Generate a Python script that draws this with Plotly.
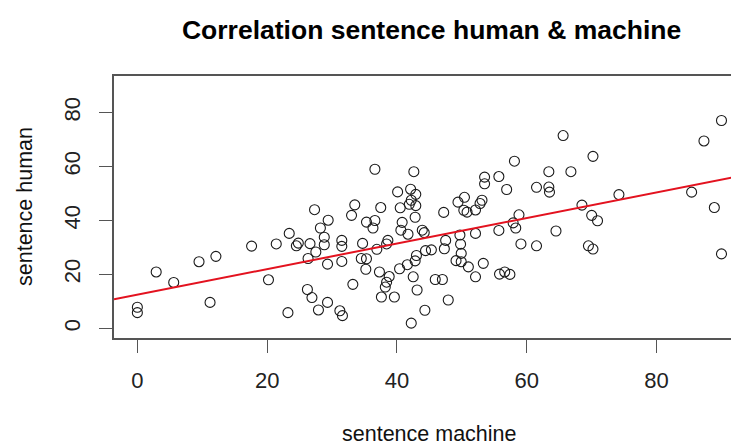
import numpy as np
import plotly.graph_objects as go

# sentence-level scores
sentence_machine = [
    0.0, 0.0, 2.9, 5.6, 9.5, 12.1, 11.2, 17.6, 20.2, 21.4,
    23.4, 23.2, 24.5, 24.8, 26.6, 27.3, 26.3, 27.5, 26.2, 26.9,
    27.9, 28.2, 29.4, 28.8, 28.8, 29.3, 29.3, 31.5, 31.5, 31.5,
    31.2, 31.6, 33.2, 33.5, 33.0, 34.7, 34.5, 35.3, 35.2, 35.3,
    36.6, 36.6, 36.3, 36.9, 37.3, 37.5, 38.6, 38.4, 38.8, 38.4,
    38.2, 37.6, 39.6, 40.1, 40.5, 40.8, 40.6, 41.7, 40.4, 41.6,
    42.2, 42.1, 42.6, 42.9, 42.2, 41.9, 42.9, 42.8, 42.8, 43.0,
    42.5, 43.1, 43.9, 44.2, 44.4, 45.3, 44.3, 45.9, 47.0, 47.2,
    47.5, 47.3, 47.9, 49.4, 50.4, 50.3, 50.8, 49.7, 49.8, 49.9,
    49.1, 49.9, 51.0, 52.1, 53.1, 52.8, 52.1, 52.1, 53.3, 53.5,
    53.5, 55.7, 56.9, 55.7, 55.8, 56.6, 57.4, 58.1, 58.8, 57.9,
    58.3, 59.1, 61.5, 61.5, 63.4, 63.4, 63.5, 64.5, 65.6, 66.8,
    68.5, 70.0, 70.9, 69.5, 70.2, 70.2, 74.2, 85.4, 87.3, 88.9,
    90.0, 90.0,
]
sentence_human = [
    7.8, 5.8, 20.9, 17.0, 24.7, 26.7, 9.6, 30.5, 18.0, 31.3,
    35.2, 5.8, 30.6, 31.6, 31.4, 44.0, 25.9, 28.3, 14.4, 11.4,
    6.8, 37.2, 40.1, 33.8, 31.0, 23.8, 9.6, 32.6, 30.4, 24.8,
    6.5, 4.7, 16.3, 45.8, 41.9, 31.5, 25.9, 25.8, 21.9, 39.4,
    59.0, 40.0, 37.2, 29.3, 20.9, 44.8, 32.6, 31.3, 19.2, 17.1,
    15.3, 11.6, 11.6, 50.6, 44.7, 39.3, 36.4, 34.9, 22.1, 23.6,
    1.9, 51.6, 58.1, 49.7, 47.5, 46.0, 45.5, 41.2, 25.0, 27.0,
    19.1, 14.2, 36.4, 35.5, 28.8, 29.1, 6.7, 18.1, 18.1, 43.0,
    32.6, 29.5, 10.5, 46.8, 48.6, 43.8, 43.1, 34.6, 31.2, 27.8,
    25.1, 24.7, 22.8, 43.9, 47.5, 46.3, 35.2, 19.1, 24.1, 56.1,
    53.6, 56.3, 51.5, 36.3, 20.1, 20.9, 20.0, 62.0, 42.1, 39.1,
    37.2, 31.3, 52.3, 30.6, 58.1, 52.4, 50.5, 36.1, 71.5, 58.1,
    45.7, 41.9, 39.9, 30.6, 29.4, 63.8, 49.6, 50.5, 69.5, 44.8,
    77.1, 27.6,
]

x_ticks = [0, 20, 40, 60, 80]
y_ticks = [0, 20, 40, 60, 80]
x_range = [-3.6, 92.7]
y_range = [-3.6, 93.6]

title_text = "Correlation sentence human & machine"
x_title = "sentence machine"
y_title = "sentence human"

FONT = "Liberation Sans, Arial, Helvetica, sans-serif"

xm = np.array(sentence_machine)
yh = np.array(sentence_human)
slope, intercept = np.polyfit(xm, yh, 1)
line_x = np.array(x_range)
line_y = intercept + slope * line_x

fig = go.Figure()
fig.add_trace(go.Scatter(
    x=sentence_machine, y=sentence_human, mode="markers",
    marker=dict(symbol="circle-open", size=10, color="#1a1a1a",
                line=dict(width=1.1, color="#1a1a1a")),
    showlegend=False, hoverinfo="x+y",
))
fig.add_trace(go.Scatter(
    x=line_x, y=line_y, mode="lines",
    line=dict(color="#e3121f", width=2),
    showlegend=False, hoverinfo="skip",
))

# the page body has an 8px margin; lay the figure out so that it lands
# on the reference's pixel positions inside the 739x448 window
OFF = 8
W, H = 739 - OFF, 448 - OFF
ml, mr, mt, mb = 114 - OFF, 0, 75.7 - OFF, 448 - 337.7
pw = W - ml - mr
ph = H - mt - mb
plot_bottom = mt + ph  # in figure pixels

fig.update_layout(
    width=W, height=H,
    margin=dict(l=ml, r=mr, t=mt, b=mb, pad=0),
    paper_bgcolor="white", plot_bgcolor="white",
    font=dict(family=FONT, color="#111111", size=22),
    title=dict(text="<b>" + title_text + "</b>", x=(431.6 - OFF) / W, y=1 - (30 - OFF) / H,
               xanchor="center", yanchor="middle", xref="container", yref="container",
               font=dict(family=FONT, size=26.5, color="#000000")),
    xaxis=dict(range=x_range, tickvals=x_ticks, ticktext=[str(v) for v in x_ticks],
               showgrid=False, zeroline=False, showline=True, mirror=True,
               linecolor="#555555", linewidth=1.5, ticks="outside", ticklen=13,
               tickwidth=1.2, tickcolor="#555555", ticklabelstandoff=9,
               tickfont=dict(size=22, color="#222222")),
    yaxis=dict(range=y_range, tickvals=y_ticks, ticktext=[str(v) for v in y_ticks],
               showgrid=False, zeroline=False, showline=True, mirror=False,
               linecolor="#555555", linewidth=1.5, ticks="outside", ticklen=13,
               tickwidth=1.2, tickcolor="#555555", tickangle=-90, ticklabelstandoff=10,
               tickfont=dict(size=22, color="#222222")),
    annotations=[
        dict(text=x_title, xref="paper", yref="paper",
             x=(429 - 114) / pw, y=(plot_bottom - (434 - OFF)) / ph,
             xanchor="center", yanchor="middle", showarrow=False,
             font=dict(family=FONT, size=21.5, color="#111111")),
        dict(text=y_title, xref="paper", yref="paper",
             x=(25 - 114) / pw, y=0.5, textangle=-90,
             xanchor="center", yanchor="middle", showarrow=False,
             font=dict(family=FONT, size=21.5, color="#111111")),
    ],
)

fig.write_html("out.html")
